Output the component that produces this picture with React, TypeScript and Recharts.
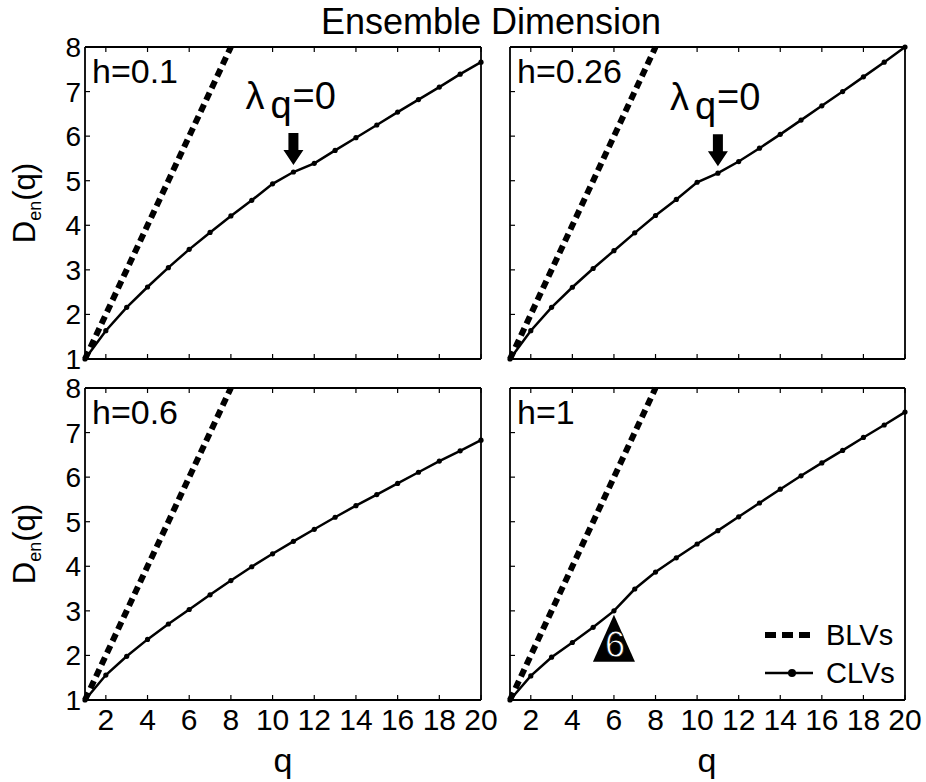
import React from 'react';
import { LineChart, Line, XAxis, YAxis, ReferenceDot, Legend } from 'recharts';

const qValues = [1, 2, 3, 4, 5, 6, 7, 8, 9, 10, 11, 12, 13, 14, 15, 16, 17, 18, 19, 20];
const blvValues = [1, 2, 3, 4, 5, 6, 7, 8];
const clvH010 = [1.0, 1.635, 2.16, 2.615, 3.05, 3.46, 3.84, 4.21, 4.56, 4.93, 5.195, 5.39, 5.68, 5.965, 6.25, 6.54, 6.82, 7.1, 7.39, 7.66];
const clvH026 = [1.0, 1.635, 2.16, 2.61, 3.03, 3.43, 3.83, 4.22, 4.58, 4.965, 5.17, 5.43, 5.73, 6.04, 6.36, 6.68, 7.0, 7.33, 7.66, 8.0];
const clvH060 = [1.0, 1.56, 1.98, 2.36, 2.705, 3.03, 3.36, 3.68, 3.99, 4.28, 4.56, 4.83, 5.1, 5.36, 5.61, 5.86, 6.11, 6.36, 6.59, 6.83];
const clvH100 = [1.0, 1.54, 1.96, 2.29, 2.63, 3.0, 3.49, 3.87, 4.19, 4.5, 4.8, 5.11, 5.42, 5.73, 6.03, 6.32, 6.6, 6.89, 7.17, 7.46];
const xTicks = [2, 4, 6, 8, 10, 12, 14, 16, 18, 20];
const yTicks = [1, 2, 3, 4, 5, 6, 7, 8];
const panelLabels = ['h=0.1', 'h=0.26', 'h=0.6', 'h=1'];
const seriesNames = ['BLVs', 'CLVs'];
const titleText = 'Ensemble Dimension';
const xLabelText = 'q';

const FONT = '"Liberation Sans", Arial, sans-serif';
const PH = 312;

const makeRows = (values: number[]) =>
  qValues.map((q, i) => ({ q, clv: values[i], blv: blvValues[i] }));

const bottomTick = (show: boolean) => (props: any) => {
  const { x, y, payload } = props;
  return (
    <g>
      <line x1={x} y1={y} x2={x} y2={y - 5} stroke="#000" strokeWidth={1.2} />
      {show && (
        <text x={x} y={y + 30} textAnchor="middle" fontSize={30} fontFamily={FONT} fill="#000">
          {payload.value}
        </text>
      )}
    </g>
  );
};
const topTick = (props: any) => {
  const { x, y } = props;
  return <line x1={x} y1={y} x2={x} y2={y + 5} stroke="#000" strokeWidth={1.2} />;
};
const leftTick = (show: boolean) => (props: any) => {
  const { x, y, payload } = props;
  return (
    <g>
      <line x1={x} y1={y} x2={x + 5} y2={y} stroke="#000" strokeWidth={1.2} />
      {show && (
        <text x={x - 4} y={y + 10} textAnchor="end" fontSize={28} fontFamily={FONT} fill="#000">
          {payload.value}
        </text>
      )}
    </g>
  );
};
const rightTick = (props: any) => {
  const { x, y } = props;
  return <line x1={x} y1={y} x2={x - 5} y2={y} stroke="#000" strokeWidth={1.2} />;
};

const LambdaMark = (props: any) => {
  const { cx, cy } = props;
  return (
    <g>
      <text x={cx - 48} y={cy - 63} fontSize={38} fontFamily={FONT} fill="#000">
        λ
        <tspan dx={6} dy={9}>q</tspan>
        <tspan dx={1} dy={-9}>=0</tspan>
      </text>
      <polygon
        points={`${cx - 5},${cy - 39} ${cx + 5},${cy - 39} ${cx + 5},${cy - 22} ${cx + 10},${cy - 22} ${cx},${cy - 7} ${cx - 10},${cy - 22} ${cx - 5},${cy - 22}`}
        fill="#000"
      />
    </g>
  );
};

const SixMark = (props: any) => {
  const { cx, cy } = props;
  return (
    <g>
      <polygon points={`${cx},${cy + 4} ${cx + 21},${cy + 51} ${cx - 21},${cy + 51}`} fill="#000" />
      <text x={cx + 1} y={cy + 46} textAnchor="middle" fontSize={36} fontFamily={FONT} fill="#fff" stroke="#000" strokeWidth={0.8}>
        6
      </text>
    </g>
  );
};

const renderLegend = (props: any) => {
  const payload = props.payload || [];
  return (
    <svg width={150} height={80} style={{ display: 'block' }}>
      {payload.map((entry: any, i: number) => {
        const y = i === 0 ? 20 : 58;
        const dashed = entry.dataKey === 'blv';
        return (
          <g key={i}>
            {dashed ? (
              <line x1={5} y1={y} x2={50} y2={y} stroke="#000" strokeWidth={6} strokeDasharray="11 6" />
            ) : (
              <g>
                <line x1={5} y1={y} x2={53} y2={y} stroke="#000" strokeWidth={2.5} />
                <circle cx={32} cy={y} r={4} fill="#000" />
              </g>
            )}
            <text x={66} y={y + 10} fontSize={29} fontFamily={FONT} fill="#000">
              {entry.value}
            </text>
          </g>
        );
      })}
    </svg>
  );
};

type PanelProps = {
  plotLeft: number;
  plotTop: number;
  plotW: number;
  values: number[];
  showX: boolean;
  showY: boolean;
  mark: 'lambda' | 'six' | null;
  legend: boolean;
};

const Panel = ({ plotLeft, plotTop, plotW, values, showX, showY, mark, legend }: PanelProps) => {
  const W = 85 + plotW + 20;
  const H = 47 + PH + 80;
  const rows = makeRows(values);
  const axisLine = { stroke: '#000', strokeWidth: 1.8 };
  return (
    <div style={{ position: 'absolute', left: plotLeft - 85, top: plotTop - 47 }}>
      <LineChart width={W} height={H} data={rows} margin={{ top: 42, right: 15, bottom: 40, left: 5 }}>
        <XAxis
          dataKey="q"
          type="number"
          domain={[1, 20]}
          ticks={xTicks}
          interval={0}
          height={40}
          tickSize={0}
          tickMargin={0}
          tickLine={false}
          axisLine={axisLine}
          tick={bottomTick(showX)}
        />
        <XAxis
          xAxisId="top"
          orientation="top"
          dataKey="q"
          type="number"
          domain={[1, 20]}
          ticks={xTicks}
          interval={0}
          height={5}
          tickSize={0}
          tickMargin={0}
          tickLine={false}
          axisLine={axisLine}
          tick={topTick}
        />
        <YAxis
          type="number"
          domain={[1, 8]}
          ticks={yTicks}
          interval={0}
          width={80}
          tickSize={0}
          tickMargin={0}
          tickLine={false}
          axisLine={axisLine}
          tick={leftTick(showY)}
        />
        <YAxis
          yAxisId="right"
          orientation="right"
          type="number"
          domain={[1, 8]}
          ticks={yTicks}
          interval={0}
          width={5}
          tickSize={0}
          tickMargin={0}
          tickLine={false}
          axisLine={axisLine}
          tick={rightTick}
        />
        <Line
          dataKey="blv"
          name={seriesNames[0]}
          type="linear"
          stroke="#000"
          strokeWidth={6}
          strokeDasharray="8 5"
          dot={false}
          activeDot={false}
          isAnimationActive={false}
        />
        <Line
          dataKey="clv"
          name={seriesNames[1]}
          type="linear"
          stroke="#000"
          strokeWidth={2.5}
          dot={{ r: 2.6, fill: '#000', stroke: '#000', strokeWidth: 0 }}
          activeDot={false}
          isAnimationActive={false}
        />
        {mark === 'lambda' && (
          <ReferenceDot x={11} y={values[10]} r={0} ifOverflow="visible" shape={LambdaMark} />
        )}
        {mark === 'six' && (
          <ReferenceDot x={6} y={values[5]} r={0} ifOverflow="visible" shape={SixMark} />
        )}
        {legend && (
          <Legend
            layout="horizontal"
            verticalAlign="middle"
            align="center"
            content={renderLegend}
            wrapperStyle={{ left: 335, top: 274, width: 150, height: 80 }}
          />
        )}
      </LineChart>
    </div>
  );
};

const panels = [
  { plotLeft: 85, plotTop: 47, plotW: 396, values: clvH010, showX: false, showY: true, mark: 'lambda', legend: false },
  { plotLeft: 510, plotTop: 47, plotW: 395, values: clvH026, showX: false, showY: false, mark: 'lambda', legend: false },
  { plotLeft: 85, plotTop: 388, plotW: 396, values: clvH060, showX: true, showY: true, mark: null, legend: false },
  { plotLeft: 510, plotTop: 388, plotW: 395, values: clvH100, showX: true, showY: false, mark: 'six', legend: true },
] as const;

export default function App() {
  return (
    <div style={{ position: 'absolute', left: 0, top: 0, width: 926, height: 782, background: '#fff', overflow: 'hidden' }}>
      <svg width={926} height={782} style={{ position: 'absolute', left: 0, top: 0 }}>
        <text x={491} y={34} textAnchor="middle" fontSize={36} fontFamily={FONT} fill="#000">
          {titleText}
        </text>
        {[47, 388].map((top, i) => (
          <text key={i} transform={`translate(35, ${top + PH / 2}) rotate(-90)`} textAnchor="middle" fontSize={31} fontFamily={FONT} fill="#000">
            D<tspan fontSize={18} dy={6}>en</tspan>
            <tspan fontSize={31} dy={-6}>(q)</tspan>
          </text>
        ))}
        {[283, 707].map((cx, i) => (
          <text key={i} x={cx} y={772} textAnchor="middle" fontSize={34} fontFamily={FONT} fill="#000">
            {xLabelText}
          </text>
        ))}
        {panels.map((p, i) => (
          <text key={i} x={p.plotLeft + 7} y={p.plotTop + 36} fontSize={34} fontFamily={FONT} fill="#000">
            {panelLabels[i]}
          </text>
        ))}
      </svg>
      {panels.map((p, i) => (
        <Panel key={i} {...(p as any)} />
      ))}
    </div>
  );
}
